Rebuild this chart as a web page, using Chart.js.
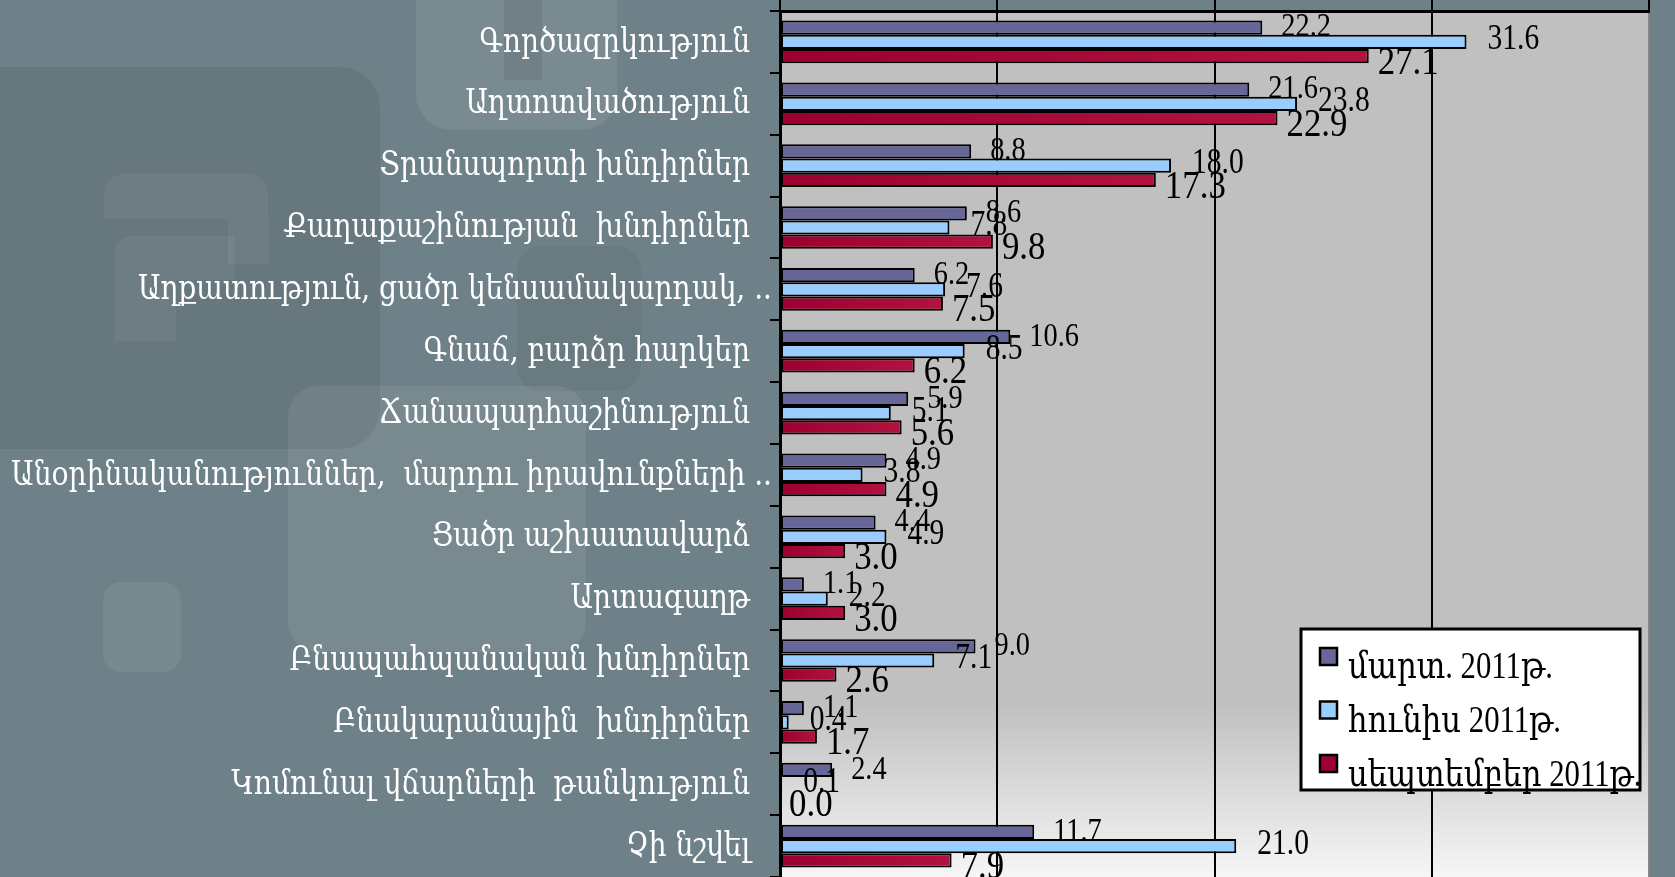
<!DOCTYPE html>
<html lang="hy">
<head>
<meta charset="UTF-8">
<title>Խնդիրներ</title>
<script src="https://cdn.jsdelivr.net/npm/chart.js"></script>
<style>
  html, body { margin: 0; padding: 0; width: 1675px; height: 877px; overflow: hidden; background: #6f8188; }
  .deco { position: absolute; }
  #chart { position: absolute; left: 0; top: 0; }
</style>
</head>
<body>
<!-- faint template shapes behind the chart -->
<div class="deco" style="left:-40px;top:67px;width:420px;height:382px;border-radius:40px;background:rgba(0,0,0,0.07)"></div>
<div class="deco" style="left:416px;top:-40px;width:201px;height:170px;border-radius:36px;background:rgba(255,255,255,0.08)"></div>
<div class="deco" style="left:504px;top:0;width:38px;height:80px;background:rgba(0,0,0,0.07)"></div>
<div class="deco" style="left:517px;top:246px;width:124px;height:145px;border-radius:24px;background:rgba(0,0,0,0.05)"></div>
<div class="deco" style="left:104px;top:173px;width:164px;height:46px;border-radius:22px 22px 0 0;background:rgba(255,255,255,0.05)"></div>
<div class="deco" style="left:228px;top:219px;width:42px;height:45px;background:rgba(255,255,255,0.05)"></div>
<div class="deco" style="left:114px;top:236px;width:120px;height:44px;border-radius:18px 0 0 0;background:rgba(255,255,255,0.05)"></div>
<div class="deco" style="left:114px;top:280px;width:62px;height:61px;background:rgba(255,255,255,0.05)"></div>
<div class="deco" style="left:288px;top:386px;width:298px;height:266px;border-radius:30px;background:rgba(255,255,255,0.07)"></div>
<div class="deco" style="left:103px;top:582px;width:78px;height:90px;border-radius:18px;background:rgba(255,255,255,0.06)"></div>

<canvas id="chart" width="1675" height="877"></canvas>
<script>
const categories = [
  'Գործազրկություն',
  'Աղտոտվածություն',
  'Տրանսպորտի խնդիրներ',
  'Քաղաքաշինության  խնդիրներ',
  'Աղքատություն, ցածր կենսամակարդակ, ..',
  'Գնաճ, բարձր հարկեր',
  'Ճանապարհաշինություն',
  'Անօրինականություններ,  մարդու իրավունքների ..',
  'Ցածր աշխատավարձ',
  'Արտագաղթ',
  'Բնապահպանական խնդիրներ',
  'Բնակարանային  խնդիրներ',
  'Կոմունալ վճարների  թանկություն',
  'Չի նշվել'
];
const seriesNames = ['մարտ. 2011թ.', 'հունիս 2011թ.', 'սեպտեմբեր 2011թ.'];
const march     = [22.2, 21.6, 8.8, 8.6, 6.2, 10.6, 5.9, 4.9, 4.4, 1.1, 9.0, 1.1, 2.4, 11.7];
const june      = [31.6, 23.8, 18.0, 7.8, 7.6, 8.5, 5.1, 3.8, 4.9, 2.2, 7.1, 0.4, 0.1, 21.0];
const september = [27.1, 22.9, 17.3, 9.8, 7.5, 6.2, 5.6, 4.9, 3.0, 3.0, 2.6, 1.7, 0.0, 7.9];
const xMin = 0, xMax = 40, xStep = 10;

const colors = ['#666699', '#99ccff', '#9e0034'];

// red bars get a left-to-right shading like the original
function redFill(ctx) {
  const chart = ctx.chart;
  if (!chart.chartArea || ctx.parsed == null) return colors[2];
  const xs = chart.scales.x;
  const x0 = xs.getPixelForValue(0);
  const x1 = xs.getPixelForValue(ctx.parsed.x);
  if (x1 - x0 < 2) return colors[2];
  const g = chart.ctx.createLinearGradient(x0, 0, x1, 0);
  g.addColorStop(0, '#9c0030');
  g.addColorStop(1, '#b2123f');
  return g;
}

const plotBackground = {
  id: 'plotBackground',
  beforeDraw(chart) {
    const { ctx, chartArea: a } = chart;
    const g = ctx.createLinearGradient(0, a.top, 0, a.bottom);
    g.addColorStop(0, '#c0c0c0');
    g.addColorStop(0.8, '#c0c0c0');
    g.addColorStop(1, '#f6f6f6');
    ctx.save();
    ctx.fillStyle = g;
    ctx.fillRect(a.left, a.top, a.right - a.left, a.bottom - a.top);
    ctx.restore();
  }
};

const labelStyle = [
  { font: '33px "Liberation Serif"', dx: 19, dy: 0, sx: 0.86 },
  { font: '36px "Liberation Serif"', dx: 21, dy: -2, sx: 0.82 },
  { font: '41px "Liberation Serif"', dx: 9, dy: 7, sx: 0.85 }
];

const valueLabels = {
  id: 'valueLabels',
  afterDatasetsDraw(chart) {
    const ctx = chart.ctx;
    ctx.save();
    ctx.fillStyle = '#000';
    ctx.textAlign = 'left';
    ctx.textBaseline = 'middle';
    chart.data.datasets.forEach((ds, di) => {
      const st = labelStyle[di];
      ctx.font = st.font;
      chart.getDatasetMeta(di).data.forEach((bar, i) => {
        ctx.save();
        ctx.translate(bar.x + st.dx, bar.y + st.dy);
        ctx.scale(st.sx, 1);
        ctx.fillText(ds.data[i].toFixed(1), 0, 0);
        ctx.restore();
      });
    });
    ctx.restore();
  }
};

const categoryLabels = {
  id: 'categoryLabels',
  afterDraw(chart) {
    const ctx = chart.ctx;
    const ys = chart.scales.y;
    ctx.save();
    ctx.fillStyle = '#ffffff';
    ctx.font = '33px "DejaVu Serif"';
    ctx.textBaseline = 'middle';
    ctx.textAlign = 'right';
    const sx = 0.85;
    categories.forEach((c, i) => {
      const right = c.endsWith('..') ? ys.right - 8 : ys.right - 30;
      ctx.save();
      ctx.translate(right, ys.getPixelForValue(i) + 1);
      ctx.scale(sx, 1);
      ctx.fillText(c, 0, 0);
      ctx.restore();
    });
    ctx.restore();
  }
};

const boxLegend = {
  id: 'boxLegend',
  afterDraw(chart) {
    const { ctx, chartArea: a } = chart;
    const left = a.right - 348, top = a.bottom - 248;
    const w = 339, h = 161;
    ctx.save();
    ctx.fillStyle = '#ffffff';
    ctx.fillRect(left, top, w, h);
    ctx.font = '37px "Liberation Serif", "DejaVu Serif"';
    ctx.textBaseline = 'alphabetic';
    ctx.textAlign = 'left';
    chart.data.datasets.forEach((ds, i) => {
      const my = top + 19 + i * 53.5;
      ctx.fillStyle = colors[i];
      ctx.fillRect(left + 19, my, 17, 17);
      ctx.lineWidth = 2.5;
      ctx.strokeStyle = '#000';
      ctx.strokeRect(left + 19, my, 17, 17);
      ctx.fillStyle = '#000';
      ctx.save();
      ctx.translate(left + 47, top + 49 + i * 54);
      ctx.scale(0.83, 1);
      ctx.fillText(ds.label, 0, 0);
      ctx.restore();
    });
    ctx.lineWidth = 3;
    ctx.strokeStyle = '#000';
    ctx.strokeRect(left, top, w, h);
    ctx.restore();
  }
};

const seriesData = [march, june, september];
new Chart(document.getElementById('chart'), {
  type: 'bar',
  data: {
    labels: categories,
    datasets: seriesData.map((d, i) => ({
      label: seriesNames[i],
      data: d,
      backgroundColor: i === 2 ? redFill : colors[i],
      borderColor: '#000',
      borderWidth: 2,
      borderSkipped: false,
      categoryPercentage: 0.69,
      barPercentage: 1.0
    }))
  },
  options: {
    indexAxis: 'y',
    responsive: false,
    animation: false,
    devicePixelRatio: 1,
    layout: { padding: { left: 0, top: 0, right: 26, bottom: 0 } },
    plugins: {
      legend: { display: false },
      tooltip: { enabled: false }
    },
    scales: {
      x: {
        type: 'linear',
        position: 'top',
        min: xMin,
        max: xMax,
        ticks: { stepSize: xStep, display: false },
        grid: {
          color: c => (c.tick && c.tick.value === xMax ? '#858585' : '#000'),
          tickColor: '#000',
          lineWidth: 2,
          tickLength: 11
        },
        border: { display: true, color: '#000', width: 3 },
        afterFit: s => { s.height = 11; }
      },
      y: {
        type: 'category',
        position: 'left',
        ticks: { display: false },
        grid: { drawOnChartArea: false, drawTicks: true, tickLength: 10, color: '#000', lineWidth: 2, offset: true },
        border: { display: true, color: '#000', width: 3 },
        afterFit: s => { s.width = 780; }
      }
    }
  },
  plugins: [plotBackground, valueLabels, categoryLabels, boxLegend]
});
</script>
</body>
</html>
